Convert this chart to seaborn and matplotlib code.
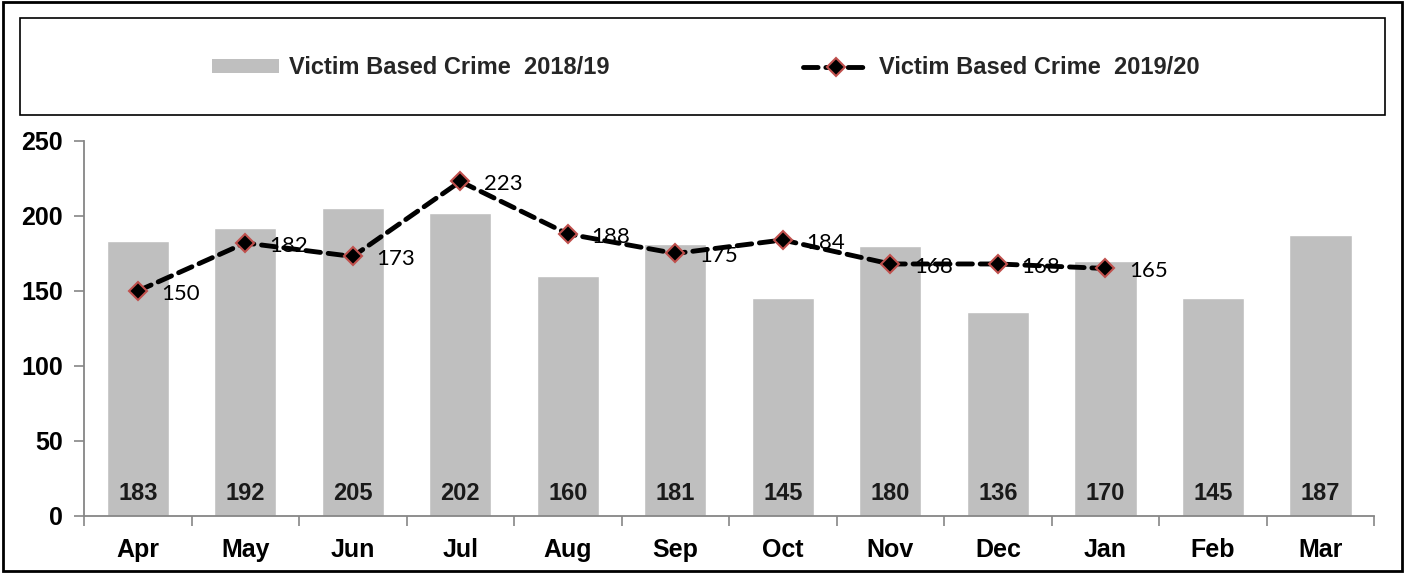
import numpy as np
import pandas as pd
import matplotlib.pyplot as plt
import seaborn as sb
from matplotlib.patches import Rectangle
from matplotlib.lines import Line2D
from matplotlib.patches import Patch

sb.set_style('white')
plt.rcParams['font.family'] = ['Liberation Sans', 'DejaVu Sans']

# Data
months = ['Apr', 'May', 'Jun', 'Jul', 'Aug', 'Sep', 'Oct', 'Nov', 'Dec', 'Jan', 'Feb', 'Mar']
crime_1819 = [183, 192, 205, 202, 160, 181, 145, 180, 136, 170, 145, 187]
crime_1920 = [150, 182, 173, 223, 188, 175, 184, 168, 168, 165]
label_1819 = 'Victim Based Crime  2018/19'
label_1920 = 'Victim Based Crime  2019/20'

bar_color = '#BFBFBF'
edge_red = '#C0504D'
axis_gray = '#868686'
dash = (0, (3, 1.6))

df = pd.DataFrame({'month': months, 'value': crime_1819})

fig = plt.figure(figsize=(14.05, 5.73), dpi=100)
ax = fig.add_axes([0.0598, 0.0995, 0.9182, 0.6545])

sb.barplot(data=df, x='month', y='value', color=bar_color, width=0.58,
           saturation=1, ax=ax)

xs = np.arange(len(crime_1920))
sb.lineplot(x=xs, y=crime_1920, ax=ax, color='black', lw=3.5,
            linestyle=dash, dash_capstyle='round', marker='D', markersize=9,
            markerfacecolor='black', markeredgecolor=edge_red,
            markeredgewidth=1.5, zorder=5)

# labels on bars
for i, v in enumerate(crime_1819):
    ax.annotate(str(v), (i, 0), xytext=(0, 16), textcoords='offset points',
                ha='center', va='center', fontsize=17, fontweight='bold',
                color='#1a1a1a')

# labels on the line
for i, v in enumerate(crime_1920):
    ax.annotate(str(v), (i, v), xytext=(17, -2), textcoords='offset points',
                ha='left', va='center', fontsize=16, family='Lato',
                color='black', zorder=6)

# Axes styling
ax.set_xlim(-0.5, len(months) - 0.5)
ax.set_ylim(0, 250)
ax.set_yticks(range(0, 251, 50))
ax.set_xlabel('')
ax.set_ylabel('')
ax.set_xticks(np.arange(-0.5, len(months), 1), minor=True)
ax.tick_params(axis='x', which='major', length=0, pad=16, labelsize=18)
ax.tick_params(axis='x', which='minor', length=7, color=axis_gray, width=1.2, direction='out')
ax.tick_params(axis='y', length=7, color=axis_gray, width=1.2, direction='out',
               labelsize=18, pad=8)
ax.tick_params(bottom=True, left=True, which='both')
for lab in ax.get_xticklabels() + ax.get_yticklabels():
    lab.set_fontweight('bold')
    lab.set_color('black')
for s in ['top', 'right']:
    ax.spines[s].set_visible(False)
for s in ['left', 'bottom']:
    ax.spines[s].set_color(axis_gray)
    ax.spines[s].set_linewidth(1.3)

# Legend box
fig.patches.append(Rectangle((20 / 1405, 1 - 115 / 573), 1365 / 1405, 97 / 573,
                             transform=fig.transFigure, fill=False,
                             edgecolor='black', linewidth=1.2))
handles = [Patch(facecolor=bar_color, edgecolor='none'),
           Line2D([0], [0], color='black', lw=3.5, linestyle=dash,
                  dash_capstyle='round', marker='D', markersize=9,
                  markerfacecolor='black', markeredgecolor=edge_red,
                  markeredgewidth=1.5)]
leg = fig.legend(handles, [label_1819, label_1920], loc='center',
                 bbox_to_anchor=(0.5025, 1 - 68 / 573), ncol=2, frameon=False,
                 prop={'weight': 'bold', 'size': 17}, handlelength=2.85,
                 handleheight=0.5, handletextpad=0.4, columnspacing=8.2)

# Outer border
fig.patches.append(Rectangle((0.002, 0.003), 0.996, 0.994, transform=fig.transFigure,
                             fill=False, edgecolor='black', linewidth=2))

fig.savefig('out.png', dpi=100)
